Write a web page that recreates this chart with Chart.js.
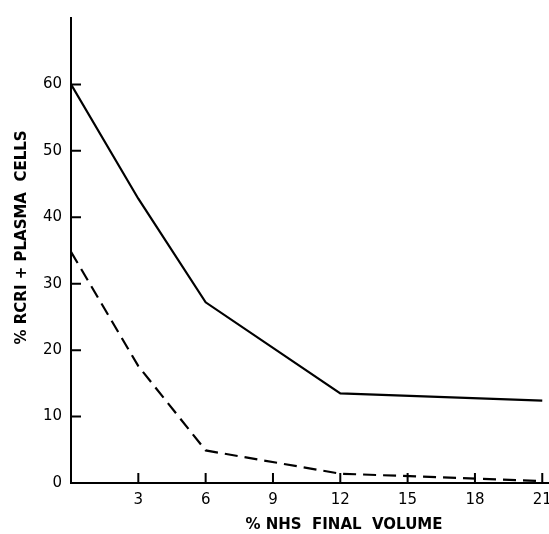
<!DOCTYPE html>
<html lang="en">
<head>
    <meta charset="UTF-8">
    <title>% RCRI + Plasma Cells vs % NHS</title>
    <script src="https://cdn.jsdelivr.net/npm/chart.js@4"></script>
    <style>
        html, body {
            margin: 0;
            padding: 0;
            background: #fff;
        }
        #wrap {
            width: 549px;
            height: 534px;
        }
    </style>
</head>
<body>
    <div id="wrap"><canvas id="nhsChart"></canvas></div>

    <script>
        // values
        const nhsVolume = [0, 3, 6, 12, 21];
        const rcriPlasma = [60, 42.8, 27.2, 13.5, 12.4];
        const rcriPlasmaDashed = [34.8, 17.6, 4.9, 1.4, 0.3];
        const xTickValues = [3, 6, 9, 12, 15, 18, 21];
        const yTickValues = [0, 10, 20, 30, 40, 50, 60];

        // ticks point into the plot, like the original drawing
        const innerTicks = {
            id: 'innerTicks',
            afterDraw(chart) {
                const { ctx, scales: { x, y } } = chart;
                ctx.save();
                ctx.strokeStyle = '#000';
                ctx.lineWidth = 2;
                ctx.beginPath();
                xTickValues.forEach(v => {
                    const px = x.getPixelForValue(v);
                    ctx.moveTo(px, y.bottom);
                    ctx.lineTo(px, y.bottom - 10);
                });
                yTickValues.forEach(v => {
                    if (v === 0) return;
                    const py = y.getPixelForValue(v);
                    ctx.moveTo(x.left, py);
                    ctx.lineTo(x.left + 10, py);
                });
                ctx.stroke();
                ctx.restore();
            }
        };

        const ctx = document.getElementById('nhsChart').getContext('2d');
        new Chart(ctx, {
            type: 'line',
            data: {
                datasets: [{
                    data: nhsVolume.map((v, i) => ({ x: v, y: rcriPlasma[i] })),
                    borderColor: '#000',
                    borderWidth: 2.2,
                    pointRadius: 0,
                    tension: 0
                }, {
                    data: nhsVolume.map((v, i) => ({ x: v, y: rcriPlasmaDashed[i] })),
                    borderColor: '#000',
                    borderWidth: 2.2,
                    borderDash: [13, 7],
                    pointRadius: 0,
                    tension: 0
                }]
            },
            options: {
                responsive: true,
                maintainAspectRatio: false,
                animation: false,
                layout: { padding: { top: 12, right: 0, left: 0, bottom: 0 } },
                plugins: {
                    legend: { display: false },
                    tooltip: { enabled: false }
                },
                scales: {
                    x: {
                        type: 'linear',
                        min: 0,
                        max: 21.3,
                        afterBuildTicks: scale => {
                            scale.ticks = xTickValues.map(v => ({ value: v }));
                        },
                        afterFit: scale => {
                            scale.height = 51;
                            scale.paddingRight = 0;
                        },
                        grid: { display: false, drawTicks: false },
                        border: { display: true, color: '#000', width: 2 },
                        ticks: {
                            autoSkip: false,
                            maxRotation: 0,
                            padding: 8,
                            color: '#000',
                            font: { family: 'DejaVu Sans', size: 15 }
                        },
                        title: {
                            display: true,
                            text: '             % NHS  FINAL  VOLUME',
                            color: '#000',
                            padding: { top: 0, bottom: 0 },
                            font: { family: 'DejaVu Sans', size: 15, weight: 'bold' }
                        }
                    },
                    y: {
                        min: 0,
                        max: 70,
                        afterBuildTicks: scale => {
                            scale.ticks = yTickValues.map(v => ({ value: v }));
                        },
                        afterFit: scale => { scale.width = 71; },
                        grid: { display: false, drawTicks: false },
                        border: { display: true, color: '#000', width: 2 },
                        ticks: {
                            padding: 9,
                            color: '#000',
                            font: { family: 'DejaVu Sans', size: 15 }
                        },
                        title: {
                            display: true,
                            text: '     % RCRI + PLASMA  CELLS',
                            color: '#000',
                            padding: { top: 13, bottom: 0 },
                            font: { family: 'DejaVu Sans', size: 15, weight: 'bold' }
                        }
                    }
                }
            },
            plugins: [innerTicks]
        });
    </script>
</body>
</html>
